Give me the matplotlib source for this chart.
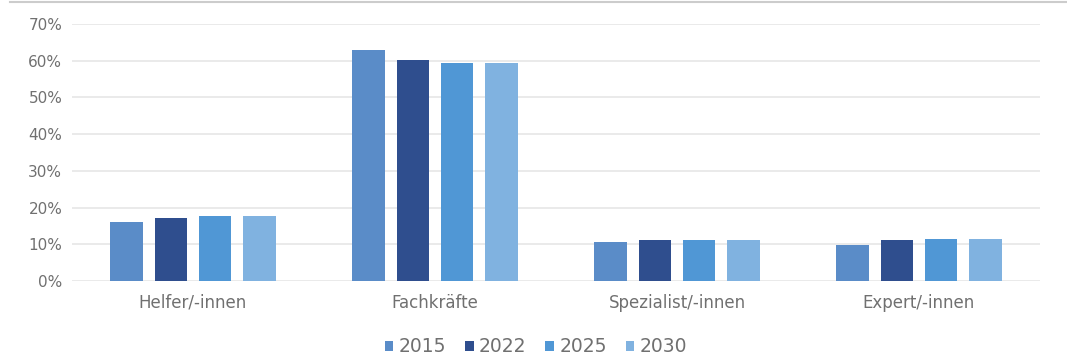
import matplotlib.pyplot as plt
import numpy as np
from matplotlib.ticker import PercentFormatter

categories = ["Helfer/-innen", "Fachkräfte", "Spezialist/-innen", "Expert/-innen"]
years = ["2015", "2022", "2025", "2030"]
shares = {
    "2015": [16.1, 62.9, 10.6, 9.8],
    "2022": [17.2, 60.2, 11.2, 11.2],
    "2025": [17.7, 59.4, 11.2, 11.4],
    "2030": [17.7, 59.4, 11.2, 11.4],
}
colors = ["#5A8CC8", "#2F4E8E", "#5097D5", "#80B2E0"]

plt.rcParams["font.family"] = ["DejaVu Sans"]

fig = plt.figure(figsize=(10.67, 3.56), dpi=100)
ax = fig.add_axes([72 / 1067, 1 - 281 / 356, 968 / 1067, 257 / 356])

x = np.arange(len(categories))
width = 0.136
step = 0.182
for i, (year, color) in enumerate(zip(years, colors)):
    offset = (i - 1.5) * step
    ax.bar(x + offset, shares[year], width=width, color=color, label=year, zorder=2)

ax.set_xlim(-0.5, len(categories) - 0.5)
ax.set_ylim(0, 70)
ax.set_yticks(np.arange(0, 71, 10))
ax.yaxis.set_major_formatter(PercentFormatter(decimals=0))
ax.grid(True, axis="y", color="#e6e6e6", linewidth=1.2, zorder=0)
ax.set_xticks(x)
ax.set_xticklabels(categories)
ax.tick_params(axis="both", length=0, colors="#707070", labelsize=11)
ax.tick_params(axis="x", pad=9, labelsize=12)
ax.tick_params(axis="y", pad=7)
for spine in ax.spines.values():
    spine.set_visible(False)

fig.legend(
    loc="center",
    bbox_to_anchor=(536 / 1067, 1 - 347 / 356),
    ncol=4,
    frameon=False,
    handlelength=0.45,
    handleheight=0.45,
    handletextpad=0.3,
    columnspacing=1.0,
    fontsize=13.5,
    labelcolor="#707070",
)

fig.add_artist(plt.Line2D([10 / 1067, 1], [1 - 2 / 356, 1 - 2 / 356], color="#cccccc", linewidth=1.5))

fig.savefig("out.png", dpi=100)
